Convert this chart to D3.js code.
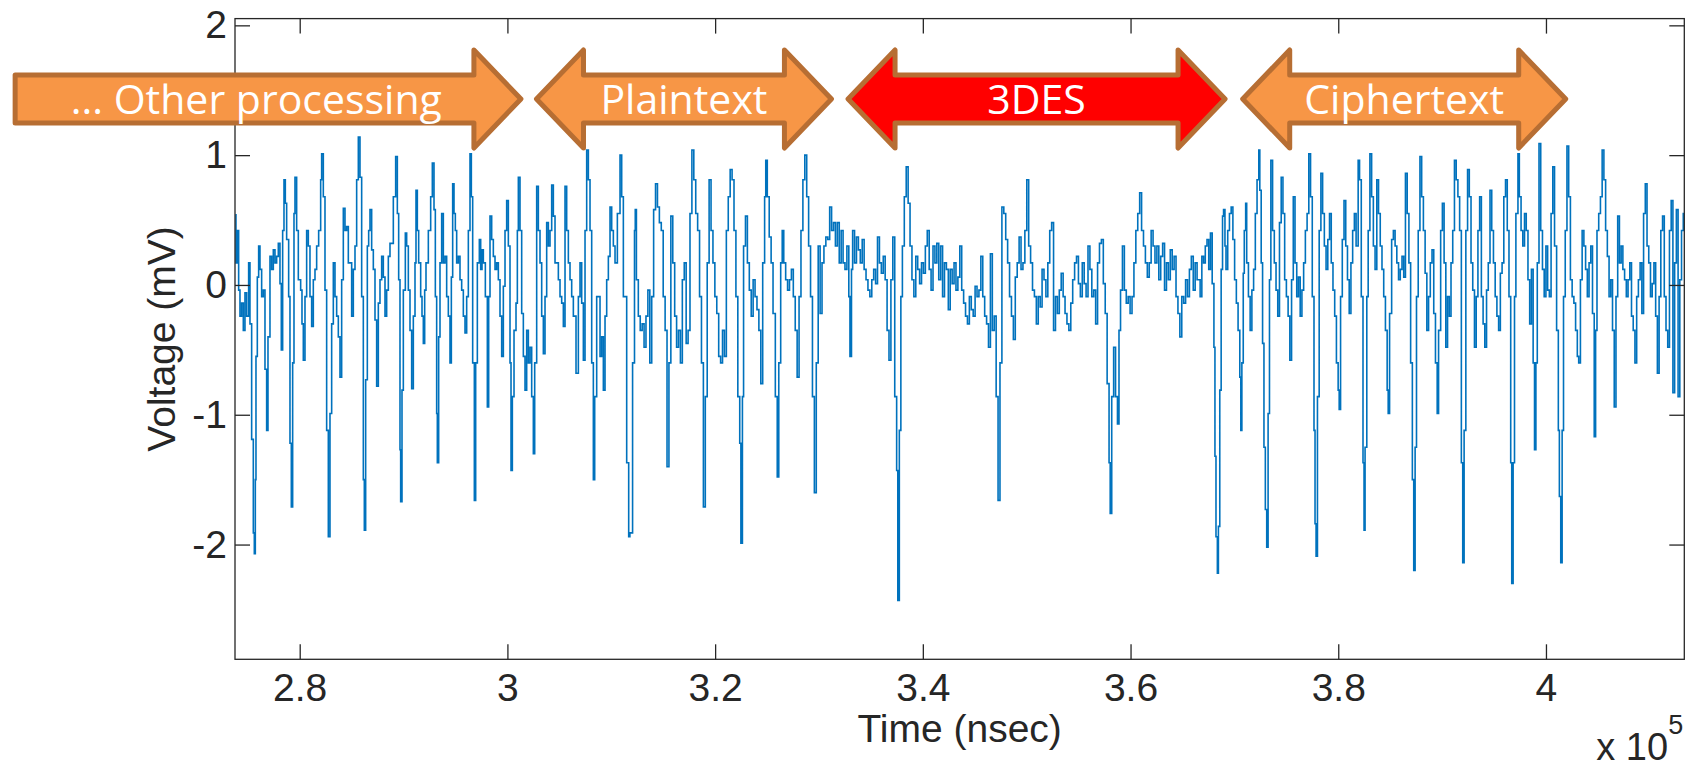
<!DOCTYPE html>
<html>
<head>
<meta charset="utf-8">
<script src="https://cdn.jsdelivr.net/npm/d3@7"></script>
<style>
  html, body { margin: 0; padding: 0; background: #fff; }
  svg { display: block; }
</style>
</head>
<body>
<svg></svg>
<script>
let width = 1691, height = 767;

let svg = d3.select("svg")
    .attr("width", width)
    .attr("height", height)
    .attr("viewBox", "0 0 " + width + " " + height);

// axis ranges and ticks (time in nsec, voltage in mV)
let timeDomain = [273770, 413320];
let voltDomain = [-2.884, 2.052];
let timeTicks = [280000, 300000, 320000, 340000, 360000, 380000, 400000];
let timeTickLabels = ["2.8", "3", "3.2", "3.4", "3.6", "3.8", "4"];
let voltTicks = [-2, -1, 0, 1, 2];

// processing phases drawn as arrows over the trace (nsec)
let phaseLabels = ["... Other processing", "Plaintext", "3DES", "Ciphertext"];
let phaseStart = [252600, 302800, 332800, 370800];
let phaseEnd = [301300, 331200, 369100, 401900];
let phaseTwoWay = [false, true, true, true];
let highlightPhase = "3DES";

// power trace: [time nsec, voltage mV]
let trace = [
[273800,0.54],[273864,0.17],[273993,0.42],[274121,-0.04],[274249,-0.24],[274410,-0.14],[274570,-0.35],[274731,-0.06],[274891,-0.24],[275084,0.17],[275212,-0.30],[275373,-1.19],[275533,-1.91],[275630,-2.07],[275726,-1.50],[275790,-0.55],[275919,0.06],[276047,0.30],[276175,0.12],[276336,-0.09],[276496,-0.04],[276657,-0.65],[276817,-1.12],[276946,-0.40],[277138,0.22],[277299,0.12],[277459,0.27],[277620,0.17],[277780,0.22],[277941,0.32],[278101,0.01],[278230,-0.50],[278358,0.42],[278487,0.81],[278615,0.63],[278743,0.35],[278936,-0.09],[279064,-1.22],[279193,-1.71],[279321,-0.60],[279450,0.55],[279546,0.83],[279706,0.42],[279867,0.04],[280092,-0.04],[280220,-0.30],[280348,-0.58],[280509,-0.09],[280669,0.42],[280830,0.30],[280990,-0.09],[281151,-0.32],[281311,0.04],[281472,0.12],[281632,0.30],[281825,0.42],[282018,0.81],[282114,1.01],[282274,0.68],[282435,-0.04],[282595,-1.12],[282756,-1.94],[282916,-0.99],[283077,-0.30],[283237,0.17],[283398,-0.09],[283558,-0.24],[283719,-0.40],[283879,-0.71],[284040,0.04],[284200,0.59],[284361,0.42],[284521,0.45],[284682,0.17],[284842,0.17],[285003,-0.24],[285163,0.12],[285324,0.30],[285484,0.81],[285645,1.14],[285805,0.83],[285966,-0.09],[286126,-1.50],[286223,-1.89],[286351,-0.73],[286512,0.30],[286640,0.42],[286768,0.58],[286929,0.27],[287089,0.12],[287250,-0.27],[287410,-0.78],[287571,-0.14],[287731,0.04],[287892,0.22],[288052,0.06],[288213,-0.24],[288373,-0.04],[288534,0.22],[288694,0.32],[289015,0.68],[289240,0.99],[289401,0.55],[289529,0.04],[289657,-1.27],[289722,-1.67],[289850,-0.81],[289978,-0.04],[290171,0.40],[290299,0.30],[290460,-0.04],[290620,-0.35],[290781,-0.80],[290941,-0.24],[291102,0.17],[291198,0.73],[291327,0.42],[291455,0.17],[291648,-0.09],[291776,-0.24],[291904,-0.45],[292033,-0.04],[292161,0.17],[292386,0.42],[292611,0.68],[292771,0.94],[292932,0.58],[293060,-0.09],[293188,-0.99],[293253,-1.37],[293381,-0.40],[293509,0.17],[293670,0.55],[293830,0.17],[293991,0.22],[294151,-0.09],[294312,-0.24],[294472,-0.60],[294601,0.06],[294729,0.78],[294858,0.55],[294986,0.42],[295114,0.17],[295275,0.22],[295435,0.04],[295596,-0.04],[295756,-0.24],[295917,-0.37],[296077,-0.09],[296238,0.42],[296398,1.01],[296527,0.68],[296655,-0.60],[296816,-1.66],[296944,-0.60],[297105,0.17],[297297,0.35],[297426,0.12],[297554,0.27],[297682,0.17],[297875,-0.09],[298068,-0.94],[298196,-0.09],[298324,0.53],[298485,0.35],[298645,0.22],[298806,0.12],[298966,0.17],[299127,0.04],[299287,-0.24],[299448,-0.55],[299608,-0.01],[299769,0.42],[299929,0.65],[300090,0.30],[300250,-0.60],[300347,-1.43],[300475,-0.86],[300636,-0.35],[300828,-0.14],[300957,0.42],[301053,0.83],[301213,0.42],[301374,-0.22],[301534,-0.55],[301695,-0.81],[301855,-0.35],[302016,-0.60],[302176,-0.48],[302337,-0.86],[302497,-1.30],[302626,-0.60],[302818,0.76],[302979,0.42],[303139,0.17],[303300,-0.24],[303460,-0.53],[303621,-0.09],[303781,0.48],[303942,0.30],[304102,0.42],[304263,0.77],[304423,0.53],[304584,0.17],[304744,0.17],[304905,0.04],[305065,-0.09],[305226,-0.14],[305386,-0.32],[305547,0.76],[305707,0.42],[305868,0.17],[306028,0.04],[306189,-0.09],[306349,-0.24],[306606,-0.68],[306831,-0.09],[306991,0.17],[307152,-0.14],[307312,-0.58],[307473,0.42],[307633,1.04],[307794,0.81],[307954,0.42],[308115,-0.60],[308275,-1.50],[308404,-0.86],[308596,-0.09],[308917,-0.55],[309078,-0.40],[309238,-0.81],[309399,-0.24],[309559,0.04],[309720,0.22],[309880,0.60],[310041,0.42],[310201,0.30],[310362,0.17],[310587,0.55],[310843,1.00],[311004,0.68],[311164,-0.09],[311485,-1.37],[311678,-1.94],
[311794,-1.91],[312052,-0.60],[312237,0.42],[312310,0.58],[312421,0.04],[312605,-0.24],[312789,-0.35],[312974,-0.30],[313158,-0.48],[313342,-0.24],[313526,-0.04],[313711,-0.60],[313895,-0.09],[314079,0.58],[314263,0.78],[314448,0.60],[314632,0.48],[314816,0.42],[315000,-0.09],[315185,-0.35],[315369,-1.40],[315553,-0.60],[315737,0.53],[315922,0.17],[316106,-0.24],[316290,-0.48],[316474,-0.35],[316659,-0.60],[316843,0.04],[317027,0.17],[317211,-0.45],[317396,-0.35],[317580,0.55],[317764,1.04],[317948,0.81],[318133,0.55],[318317,0.42],[318501,-0.09],[318685,-0.60],[318870,-1.71],[319054,-0.86],[319238,0.17],[319422,0.81],[319607,0.42],[319791,0.17],[319975,-0.09],[320159,-0.22],[320344,-0.55],[320528,-0.60],[320712,-0.35],[320896,-0.55],[321081,0.42],[321265,0.68],[321449,0.89],[321633,0.81],[321818,0.42],[322002,-0.09],[322186,-0.86],[322370,-1.22],[322481,-1.99],[322628,-0.86],[322739,0.30],[322923,0.53],[323107,0.17],[323292,-0.04],[323476,-0.24],[323660,0.04],[323844,-0.09],[324029,-0.19],[324213,-0.35],[324397,-0.76],[324581,0.17],[324766,0.68],[324876,0.96],[325023,0.68],[325208,0.37],[325392,0.17],[325576,-0.22],[325797,-0.86],[325982,-1.48],[326129,-0.60],[326313,0.17],[326461,0.42],[326608,0.17],[326792,0.04],[326977,-0.04],[327161,0.04],[327345,0.12],[327529,-0.09],[327714,-0.35],[327898,-0.71],[328082,-0.09],[328266,0.42],[328451,0.81],[328635,1.00],[328819,0.68],[329003,0.30],[329188,-0.09],[329372,-0.86],[329556,-1.60],[329740,-0.60],[329925,0.30],[330109,-0.22],[330293,0.17],[330477,0.30],[330662,0.37],[330846,0.35],[331030,0.60],[331214,0.42],[331399,0.48],[331583,0.30],[331767,0.48],[331951,0.17],[332136,0.42],[332320,0.17],[332504,0.12],[332688,0.30],[332873,-0.09],[332983,-0.55],[333130,0.12],[333241,0.42],[333425,0.17],[333610,0.37],[333794,0.27],[333978,0.17],[334162,0.35],[334347,0.12],[334531,0.04],[334715,-0.04],[334899,-0.09],[335084,0.04],[335268,0.12],[335452,0.01],[335636,0.37],[335821,0.17],[336005,0.09],[336189,0.22],[336373,0.04],[336558,-0.35],[336742,-0.58],[336926,0.04],[337110,0.37],[337295,-0.86],[337479,-1.43],[337589,-2.43],[337737,-1.12],[337884,-0.09],[338032,0.30],[338216,0.68],[338400,0.91],[338584,0.63],[338769,0.30],[338953,0.04],[339137,-0.09],[339321,0.22],[339506,0.12],[339690,0.01],[339874,0.17],[340058,0.09],[340243,0.30],[340427,0.42],[340611,0.12],[340795,-0.04],[340980,0.30],[341164,0.17],[341348,0.32],[341532,0.04],[341717,0.30],[341901,-0.09],[342085,0.17],[342269,0.12],[342454,-0.19],[342638,0.12],[342822,0.01],[343006,0.17],[343191,-0.04],[343375,0.06],[343559,0.30],[343743,-0.04],[343928,-0.14],[344112,-0.24],[344296,-0.30],[344480,-0.09],[344665,-0.19],[344849,-0.24],[345033,-0.01],[345217,-0.09],[345402,-0.04],[345586,0.22],[345770,-0.09],[345954,-0.24],[346139,-0.30],[346323,-0.48],[346507,0.24],[346691,-0.35],[346876,-0.24],[347060,-0.86],[347244,-1.66],[347428,-0.60],[347613,0.60],[347797,0.55],[347981,0.35],[348165,0.17],[348350,-0.09],[348534,-0.24],[348718,-0.42],[348902,0.06],[349087,0.17],[349271,0.37],[349455,0.12],[349639,0.17],[349824,0.42],[350008,0.81],[350192,0.30],[350376,0.17],[350561,-0.04],[350745,-0.09],[350929,-0.30],[351113,-0.09],[351298,-0.17],[351482,0.12],[351666,0.04],[351850,-0.09],[352035,0.17],[352219,0.42],[352403,0.48],[352587,-0.35],[352772,-0.09],[352956,-0.22],[353140,-0.04],[353324,0.09],[353509,-0.09],[353693,-0.22],[353877,-0.30],[354061,-0.35],[354246,-0.14],[354430,0.04],[354614,0.17],[354798,0.22],[354983,0.01],[355167,-0.09],[355351,0.17],[355535,0.01],[355720,-0.09],[355904,0.30],[356088,0.12],[356272,-0.09],[356457,-0.04],[356641,-0.30],[356825,0.17],[357009,0.32],[357194,0.35],[357378,0.01],[357562,-0.22],[357746,-0.76],[357931,-1.37],[358041,-1.76],[358188,-0.86],[358373,-0.48],[358557,-0.86],[358741,-1.07],[358888,-0.35],[359036,-0.04],[359220,0.30],[359405,-0.04],[359589,-0.14],[359773,-0.09],[359957,-0.22],[360142,-0.09],[360326,0.17],[360510,0.42],[360694,0.55],[360879,0.71],[361063,0.42],[361247,0.30],[361431,0.17],[361616,0.06],[361800,0.17],[361984,0.42],[362168,0.30],[362353,0.17],[362537,0.30],[362721,0.04],[362905,0.22],[363090,0.32],[363274,-0.04],[363458,0.17],[363642,0.04],[363827,0.27],[364011,0.12],[364195,0.22],[364379,-0.09],[364564,-0.22],[364748,-0.40],[364932,-0.09],[365116,-0.14],[365301,0.04],[365485,-0.09],[365669,0.12],[365853,0.22],[366038,-0.04],[366222,0.17],[366406,0.04],[366701,-0.09],
[366865,0.22],[367031,0.17],[367197,0.30],[367363,0.35],[367529,0.12],[367695,0.40],[367861,0.01],[368028,-0.48],[368127,-1.32],[368227,-1.94],[368360,-2.22],[368460,-1.86],[368592,-0.81],[368725,0.12],[368858,0.53],[368958,0.58],[369091,0.30],[369191,0.12],[369357,0.42],[369523,0.55],[369689,0.60],[369855,0.35],[370021,0.04],[370188,-0.14],[370354,-0.35],[370520,-0.71],[370619,-1.12],[370719,-0.60],[370852,0.09],[370952,0.42],[371085,0.63],[371184,0.17],[371351,-0.09],[371517,-0.35],[371683,-0.04],[371849,0.12],[372015,0.55],[372181,0.81],[372347,1.04],[372447,0.73],[372580,0.17],[372713,-0.45],[372846,-1.25],[372979,-1.73],[373112,-2.02],[373245,-0.99],[373378,0.04],[373511,0.96],[373677,0.42],[373843,0.17],[374009,-0.04],[374175,-0.24],[374341,0.48],[374507,0.83],[374674,0.55],[374840,0.04],[375006,-0.09],[375172,-0.24],[375338,-0.58],[375504,0.04],[375670,0.68],[375837,0.17],[376003,-0.09],[376169,0.06],[376335,-0.24],[376501,-0.04],[376667,0.17],[376834,0.42],[377000,0.55],[377166,1.01],[377332,0.68],[377498,-0.09],[377664,-1.12],[377764,-1.84],[377864,-2.09],[377997,-0.86],[378163,0.42],[378329,0.86],[378495,0.55],[378661,0.30],[378827,0.12],[378993,0.35],[379160,0.55],[379326,0.17],[379492,-0.04],[379658,-0.24],[379824,-0.60],[379990,-0.81],[380090,-0.96],[380223,-0.09],[380389,0.35],[380555,0.65],[380721,0.30],[380888,0.04],[381054,-0.22],[381220,0.17],[381386,0.42],[381552,0.55],[381718,0.30],[381917,0.96],[382050,0.81],[382217,-0.09],[382383,-1.37],[382483,-1.89],[382582,-1.25],[382748,-0.09],[382881,0.42],[383048,1.01],[383214,0.68],[383380,0.30],[383546,0.12],[383712,0.81],[383878,0.55],[384044,0.30],[384211,0.12],[384377,-0.09],[384543,-0.35],[384709,-0.81],[384809,-0.99],[384942,-0.22],[385141,0.35],[385307,0.42],[385473,0.30],[385639,0.17],[385806,0.04],[385972,0.12],[386138,0.22],[386304,0.06],[386470,0.86],[386636,0.55],[386803,0.17],[386969,-0.60],[387135,-1.50],[387268,-2.20],[387401,-1.25],[387534,-0.09],[387700,0.42],[387866,0.99],[388032,0.68],[388198,0.42],[388364,0.09],[388530,-0.35],[388697,-0.09],[388863,0.17],[389029,0.27],[389195,-0.22],[389361,-0.60],[389527,-0.99],[389660,-0.35],[389860,0.42],[390026,0.63],[390192,0.17],[390358,-0.48],[390524,-0.09],[390690,-0.24],[390857,0.17],[391023,0.42],[391189,0.96],[391355,0.81],[391521,0.68],[391687,0.42],[391853,-1.37],[391986,-2.14],[392119,-1.12],[392285,0.42],[392452,0.89],[392618,0.68],[392784,0.17],[392950,-0.04],[393116,-0.48],[393282,-0.09],[393449,0.42],[393615,0.68],[393781,-0.09],[393947,-0.30],[394113,-0.48],[394279,-0.04],[394445,0.17],[394612,0.73],[394778,0.42],[394944,0.17],[395110,-0.09],[395276,-0.24],[395442,-0.35],[395608,0.09],[395775,0.17],[395941,0.68],[396107,0.81],[396273,0.42],[396439,-0.09],[396605,-1.37],[396705,-2.30],[396838,-1.37],[396971,-0.09],[397104,0.55],[397303,1.01],[397436,0.68],[397602,0.42],[397768,0.30],[397935,0.55],[398101,0.42],[398267,0.04],[398433,-0.30],[398599,0.12],[398765,-0.60],[398898,-1.27],[399031,-0.60],[399164,0.17],[399330,1.09],[399496,0.42],[399663,0.12],[399829,-0.09],[399995,0.30],[400161,-0.04],[400327,-0.09],[400493,0.55],[400659,0.91],[400826,0.30],[401025,-0.35],[401191,-1.12],[401291,-1.63],[401424,-2.14],[401557,-1.12],[401690,-0.09],[401856,0.42],[402022,1.07],[402188,0.68],[402354,0.04],[402521,-0.09],[402687,-0.14],[402853,-0.35],[403019,-0.55],[403152,-0.60],[403318,0.04],[403484,0.42],[403650,0.30],[403816,0.12],[403983,-0.09],[404149,0.17],[404315,0.30],[404481,-0.22],[404647,-1.17],[404780,-0.35],[404913,0.42],[405079,0.55],[405245,0.68],[405411,1.04],[405577,0.81],[405744,0.42],[405910,0.22],[406076,-0.09],[406242,0.04],[406408,-0.35],[406574,-0.94],[406741,-0.09],[406907,0.53],[407073,0.17],[407239,0.30],[407405,0.12],[407571,0.04],[407737,-0.09],[407904,0.04],[408070,0.17],[408236,-0.24],[408402,-0.35],[408568,-0.60],[408734,-0.09],[408900,0.04],[409067,0.17],[409233,-0.22],[409399,0.55],[409565,0.78],[409731,0.30],[409897,0.17],[410064,-0.09],[410230,0.01],[410396,0.17],[410562,-0.24],[410728,-0.68],[410894,-0.09],[411060,0.42],[411227,0.53],[411393,-0.09],[411559,-0.35],[411725,-0.48],[411891,0.42],[412057,0.65],[412223,-0.83],[412390,0.17],[412556,0.58],[412722,-0.86],[412888,0.04],[413054,0.42],[413220,0.55],[413386,0.42]
];

// plot box
let plotLeft = 235, plotRight = 1684.3, plotTop = 18.6, plotBottom = 659.3;
let axisColor = "#262626";
let axisFont = "Liberation Sans, Arial, Helvetica, sans-serif";

let x = d3.scaleLinear().domain(timeDomain).range([plotLeft, plotRight]);
let y = d3.scaleLinear().domain(voltDomain).range([plotBottom, plotTop]);

svg.append("defs").append("clipPath")
    .attr("id", "plot-clip")
    .append("rect")
    .attr("x", plotLeft).attr("y", plotTop)
    .attr("width", plotRight - plotLeft).attr("height", plotBottom - plotTop);

// the trace, drawn sample-and-hold like the scope plot
let line = d3.line()
    .curve(d3.curveStepAfter)
    .x(d => x(d[0]))
    .y(d => y(d[1]));

svg.append("path")
    .datum(trace)
    .attr("clip-path", "url(#plot-clip)")
    .attr("fill", "none")
    .attr("stroke", "#0072BD")
    .attr("stroke-width", 1.6)
    .attr("d", line);

// axes, ticks pointing inward on all four sides
function styleAxis(g) {
    g.select(".domain").remove();
    g.selectAll(".tick line").attr("stroke", axisColor).attr("stroke-width", 1.3);
    g.selectAll(".tick text")
        .attr("fill", axisColor)
        .style("font-family", axisFont)
        .style("font-size", "39px");
}

svg.append("g")
    .attr("transform", "translate(0," + plotBottom + ")")
    .call(d3.axisBottom(x).tickValues(timeTicks)
        .tickFormat((d, i) => timeTickLabels[i])
        .tickSizeInner(-15).tickSizeOuter(0).tickPadding(14))
    .call(styleAxis);

svg.append("g")
    .attr("transform", "translate(0," + plotTop + ")")
    .call(d3.axisTop(x).tickValues(timeTicks).tickFormat("")
        .tickSizeInner(-15).tickSizeOuter(0))
    .call(styleAxis);

svg.append("g")
    .attr("transform", "translate(" + plotLeft + ",0)")
    .call(d3.axisLeft(y).tickValues(voltTicks).tickFormat(d => String(d))
        .tickSizeInner(-15).tickSizeOuter(0).tickPadding(8))
    .call(styleAxis);

svg.append("g")
    .attr("transform", "translate(" + plotRight + ",0)")
    .call(d3.axisRight(y).tickValues(voltTicks).tickFormat("")
        .tickSizeInner(-15).tickSizeOuter(0))
    .call(styleAxis);

svg.append("rect")
    .attr("x", plotLeft).attr("y", plotTop)
    .attr("width", plotRight - plotLeft).attr("height", plotBottom - plotTop)
    .attr("fill", "none")
    .attr("stroke", axisColor)
    .attr("stroke-width", 1.3);

// axis titles
svg.append("text")
    .attr("x", (plotLeft + plotRight) / 2)
    .attr("y", 742)
    .attr("text-anchor", "middle")
    .attr("fill", axisColor)
    .style("font-family", axisFont)
    .style("font-size", "39px")
    .text("Time (nsec)");

svg.append("text")
    .attr("transform", "translate(175," + ((plotTop + plotBottom) / 2) + ") rotate(-90)")
    .attr("text-anchor", "middle")
    .attr("fill", axisColor)
    .style("font-family", axisFont)
    .style("font-size", "39px")
    .text("Voltage (mV)");

// exponent note under the right end of the x axis
svg.append("text")
    .attr("x", plotRight - 88)
    .attr("y", 760)
    .attr("fill", axisColor)
    .style("font-family", axisFont)
    .style("font-size", "38px")
    .text("x 10");

svg.append("text")
    .attr("x", plotRight - 16)
    .attr("y", 734)
    .attr("fill", axisColor)
    .style("font-family", axisFont)
    .style("font-size", "27px")
    .text("5");

// phase arrows
let cy = 99, bodyHalf = 24, headHalf = 49, headLen = 47;

function arrowPath(x0, x1, twoWay) {
    let p = d3.path();
    if (twoWay) {
        p.moveTo(x0, cy);
        p.lineTo(x0 + headLen, cy - headHalf);
        p.lineTo(x0 + headLen, cy - bodyHalf);
    } else {
        p.moveTo(x0, cy - bodyHalf);
    }
    p.lineTo(x1 - headLen, cy - bodyHalf);
    p.lineTo(x1 - headLen, cy - headHalf);
    p.lineTo(x1, cy);
    p.lineTo(x1 - headLen, cy + headHalf);
    p.lineTo(x1 - headLen, cy + bodyHalf);
    if (twoWay) {
        p.lineTo(x0 + headLen, cy + bodyHalf);
        p.lineTo(x0 + headLen, cy + headHalf);
    } else {
        p.lineTo(x0, cy + bodyHalf);
    }
    p.closePath();
    return p.toString();
}

let phases = phaseLabels.map((label, i) => ({
    label: label,
    x0: x(phaseStart[i]),
    x1: x(phaseEnd[i]),
    twoWay: phaseTwoWay[i]
}));

let arrows = svg.append("g").attr("id", "phases")
    .selectAll("g")
    .data(phases)
    .enter()
    .append("g");

arrows.append("path")
    .attr("d", d => arrowPath(d.x0, d.x1, d.twoWay))
    .attr("fill", d => d.label == highlightPhase ? "#FF0000" : "#F79646")
    .attr("stroke", "#B76E33")
    .attr("stroke-width", 5)
    .attr("stroke-linejoin", "round");

arrows.append("text")
    .attr("x", d => d.twoWay ? (d.x0 + d.x1) / 2 : (d.x0 + d.x1) / 2 - headLen / 4)
    .attr("y", cy + 15)
    .attr("text-anchor", "middle")
    .attr("fill", "#fff")
    .style("font-family", "'Open Sans', Lato, sans-serif")
    .style("font-size", "41px")
    .text(d => d.label);
</script>
</body>
</html>
